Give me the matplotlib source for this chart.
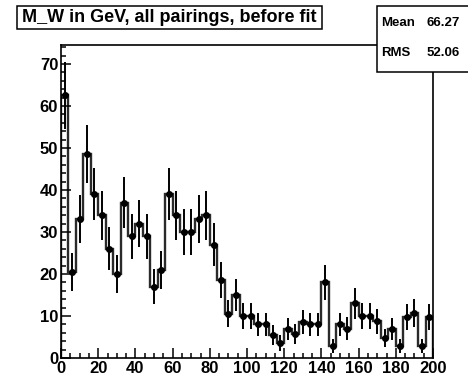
import numpy as np
import matplotlib
matplotlib.use("Agg")
import matplotlib.pyplot as plt
from matplotlib.patches import Rectangle
from matplotlib.ticker import MultipleLocator

# ---- data ----
bin_edges = np.arange(0, 201, 4)
counts = [62.5, 20.5, 33, 48.5, 39, 34, 26, 20, 37, 29,
          32, 29, 17, 21, 39, 34, 30, 30, 33, 34,
          27, 18.5, 10.5, 15, 10, 10, 8, 8, 5.5, 3.6,
          6.8, 5.7, 8.6, 8, 8, 18, 2.9, 8, 7, 13,
          10, 10, 8.7, 4.8, 6.8, 2.8, 9.8, 10.7, 2.8, 9.8]
title_text = "M_W in GeV, all pairings, before fit"
stats_labels = ["Mean", "RMS"]
stats_values = ["66.27", "52.06"]
x_ticks = [0, 20, 40, 60, 80, 100, 120, 140, 160, 180, 200]
y_ticks = [0, 10, 20, 30, 40, 50, 60, 70]

plt.rcParams['font.family'] = ['Liberation Sans', 'DejaVu Sans']
plt.rcParams['font.weight'] = 'bold'

W, H = 468, 382
fig = plt.figure(figsize=(W / 100, H / 100), dpi=100)

def fx(x):
    return x / W

def fy(y):
    return 1 - y / H

L, R, T, B = 61, 433, 45, 358
ax = fig.add_axes([fx(L), fy(B), fx(R) - fx(L), fy(T) - fy(B)])

counts = np.array(counts, dtype=float)
centers = 0.5 * (bin_edges[:-1] + bin_edges[1:])
errs = np.sqrt(counts)

ax.stairs(counts, bin_edges, color='#2a2a2a', linewidth=1.7)
ax.errorbar(centers, counts, yerr=errs, fmt='o', color='black',
            markersize=4, elinewidth=1.4, capsize=0)

ax.set_xlim(0, 200)
ax.set_ylim(0, 74.5)
ax.set_xticks(x_ticks)
ax.set_yticks(y_ticks)
ax.xaxis.set_minor_locator(MultipleLocator(5))
ax.yaxis.set_minor_locator(MultipleLocator(2))
ax.tick_params(axis='both', which='both', direction='in', top=False, right=False,
               width=1.1, labelsize=12, pad=2)
ax.tick_params(axis='both', which='major', length=7)
ax.tick_params(axis='both', which='minor', length=3.5)
for lab in ax.get_xticklabels() + ax.get_yticklabels():
    lab.set_fontweight('bold')
for sp in ax.spines.values():
    sp.set_linewidth(1.2)

# title box
fig.add_artist(Rectangle((fx(17), fy(29)), fx(322) - fx(17), fy(6) - fy(29),
                         transform=fig.transFigure, fill=False, edgecolor='black',
                         linewidth=1.1))
fig.text(fx(22), fy(17.5), title_text, ha='left', va='center',
         fontsize=13, fontweight='bold')

# stats box
fig.add_artist(Rectangle((fx(377), fy(72)), fx(480) - fx(377), fy(6) - fy(72),
                         transform=fig.transFigure, facecolor='white',
                         edgecolor='black', linewidth=1.1, zorder=5))
for i, (lab, val) in enumerate(zip(stats_labels, stats_values)):
    yy = 23 + i * 30
    fig.text(fx(381), fy(yy), lab, ha='left', va='center', fontsize=9.5,
             fontweight='bold', zorder=6)
    fig.text(fx(460), fy(yy), val, ha='right', va='center', fontsize=9.5,
             fontweight='bold', zorder=6)

fig.savefig("out.png", dpi=100)
